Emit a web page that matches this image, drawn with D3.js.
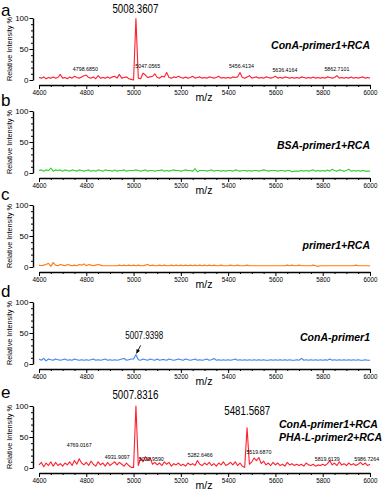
<!DOCTYPE html>
<html><head><meta charset="utf-8">
<script src="https://cdn.jsdelivr.net/npm/d3@7"></script>
<style>body{margin:0;background:#fff}svg{display:block}</style>
</head><body>
<svg id="c" width="392" height="497"></svg>
<script>
// m/z sampling grid (categories)
const mz = [4600,4610,4620,4630,4640,4650,4660,4670,4680,4690,
4700,4710,4720,4730,4740,4750,4760,4770,4780,4790,
4800,4810,4820,4830,4840,4850,4860,4870,4880,4890,
4900,4910,4920,4930,4940,4950,4960,4970,4980,4990,
5000,5010,5020,5030,5040,5050,5060,5070,5080,5090,
5100,5110,5120,5130,5140,5150,5160,5170,5180,5190,
5200,5210,5220,5230,5240,5250,5260,5270,5280,5290,
5300,5310,5320,5330,5340,5350,5360,5370,5380,5390,
5400,5410,5420,5430,5440,5450,5460,5470,5480,5490,
5500,5510,5520,5530,5540,5550,5560,5570,5580,5590,
5600,5610,5620,5630,5640,5650,5660,5670,5680,5690,
5700,5710,5720,5730,5740,5750,5760,5770,5780,5790,
5800,5810,5820,5830,5840,5850,5860,5870,5880,5890,
5900,5910,5920,5930,5940,5950,5960,5970,5980,5990,6000];

const valuesA = [4,3,5,2,4,3,5,3,4,9,
3,4,2,5,3,6,4,3,5,7,
8,4,3,5,2,7,3,4,3,5,
3,5,6,3,9,3,4,5,2,1,
0,99,3,2,11,8,4,5,6,10,
4,3,6,5,12,4,3,5,4,6,
4,3,5,3,4,6,3,4,5,3,
4,3,5,4,3,4,6,3,4,3,
4,3,5,4,5,12,4,3,5,7,
3,4,5,3,4,3,5,4,3,4,
6,3,4,3,5,4,3,4,3,4,
3,5,4,3,4,3,5,3,4,3,
4,3,5,4,3,4,7,3,4,3,
4,3,5,3,4,3,4,5,3,4,3];

const valuesB = [4,5,3,5,4,8,3,5,4,5,
3,5,4,3,5,4,3,5,4,3,
4,5,3,4,3,5,4,3,5,4,
4,3,5,3,4,4,5,3,4,4,
4,5,4,3,4,5,3,4,4,3,
4,4,5,3,4,3,4,5,4,4,
3,4,5,4,4,3,7,2,4,4,
4,3,4,5,3,4,4,3,4,3,
4,4,3,5,4,3,4,4,3,4,
3,4,4,3,4,5,4,3,4,4,
4,3,4,4,3,4,4,2,3,3,
3,4,3,4,3,4,5,3,4,3,
4,3,5,3,6,4,3,5,4,3,
4,6,3,4,3,4,3,4,3,3,3];

const valuesC = [3,2,3,4,6,1,7,3,2,4,
3,2,4,3,2,3,2,4,3,5,
2,4,3,2,3,4,3,2,2,2,
2,2,2,2,3,2,3,2,3,2,
3,2,3,2,2,3,4,2,3,2,
2,3,2,3,2,2,3,2,3,2,
3,2,3,2,3,2,3,2,3,2,
3,2,3,2,3,2,2,3,2,2,
2,3,2,2,3,2,2,2,3,2,
2,2,2,2,2,2,2,2,2,2,
2,2,2,2,2,3,2,3,2,2,
3,2,2,2,2,2,3,2,1,2,
2,2,2,2,2,2,2,2,2,2,
2,2,2,2,3,2,2,2,2,2,2];

const valuesD = [8,6,9,5,8,7,6,8,7,6,
7,8,6,7,6,8,7,6,7,6,
7,6,7,8,6,7,6,7,8,6,
7,6,7,6,7,8,9,6,7,8,
8,15,7,6,8,7,6,8,7,6,
8,6,7,7,6,8,7,6,7,8,
7,6,8,7,6,7,8,6,7,6,
7,8,6,7,9,6,7,6,7,6,
7,6,7,8,6,7,6,7,6,7,
6,7,6,7,6,7,6,6,7,6,
7,6,7,6,7,6,7,6,6,7,
6,9,6,7,6,7,6,7,6,7,
6,7,6,8,6,7,6,7,6,7,
6,7,6,7,6,7,6,6,7,6,6];

const valuesE = [5,9,2,8,4,10,3,9,4,7,
3,8,5,10,4,12,6,15,8,5,
9,4,11,6,3,10,5,8,3,9,
4,7,10,5,9,6,3,8,4,1,
1,100,4,16,10,18,12,17,6,9,
5,8,4,10,6,9,3,7,5,8,
4,6,3,8,5,7,4,12,6,4,
8,5,9,4,7,3,8,5,10,4,
6,9,5,10,4,8,3,1,65,6,
10,16,12,17,7,11,5,8,4,9,
5,8,4,6,3,9,5,7,4,6,
4,6,3,8,5,4,6,3,5,4,
6,4,7,12,5,8,4,10,5,7,
4,8,5,7,4,6,9,5,8,4,6];

const panelLetters = ["a","b","c","d","e"];
const seriesColors = ["#ff1f2d","#2fd12f","#ff7a12","#3a86f0","#ff1f2d"];
const sampleNames = [["ConA-primer1+RCA"],["BSA-primer1+RCA"],["primer1+RCA"],["ConA-primer1"],["ConA-primer1+RCA","PHA-L-primer2+RCA"]];
const xTicks = [4600,4800,5000,5200,5400,5600,5800,6000];
const yTicks = [0,50,100];

// peak annotations: [panel, text, m/z anchor, label height in %]
const bigLabels = [
  [0,"5008.3607",5008,108],
  [3,"5007.9398",5045,40],
  [4,"5007.8316",5008,112],
  [4,"5481.5687",5481,86]
];
const smallLabels = [
  [0,"4798.6850",4796,14],
  [0,"5047.0565",5060,19],
  [0,"5456.4134",5456,19],
  [0,"5636.4164",5640,13],
  [0,"5862.7101",5860,14],
  [4,"4769.0167",4770,34],
  [4,"4931.9097",4931,14],
  [4,"5029.9590",5075,12],
  [4,"5282.6466",5282,17],
  [4,"5519.6870",5530,22],
  [4,"5819.6139",5819,12],
  [4,"5986.7264",5986,12]
];

const panelBase = [80,173,267,364,468];
const panelH = 62;
const svg = d3.select("#c");
const font = "'Liberation Sans', Arial, sans-serif";
const x = d3.scaleLinear().domain([4600,6000]).range([39,370]);
const allValues = [valuesA,valuesB,valuesC,valuesD,valuesE];

allValues.forEach((vals,p)=>{
  const y0 = panelBase[p];
  const y = d3.scaleLinear().domain([0,100]).range([y0, y0-panelH]);
  const g = svg.append("g");
  // x axis
  const xa = g.append("g").attr("transform",`translate(0,${y0+5})`)
    .call(d3.axisBottom(x).tickValues(xTicks).tickSize(4).tickSizeOuter(0).tickFormat(d3.format("d")));
  g.append("g").attr("transform",`translate(0,${y0+5})`)
    .call(d3.axisBottom(x).tickValues(d3.range(4650,6000,50).filter(v=>v%200)).tickSize(2).tickFormat(""))
    .select(".domain").remove();
  xa.selectAll("text").attr("font-family",font).attr("font-size",7.5).attr("fill","#000")
    .attr("dy","0.55em").attr("y",6).attr("textLength",14).attr("lengthAdjust","spacingAndGlyphs");
  // y axis
  const ya = g.append("g").attr("transform","translate(33,0)")
    .call(d3.axisLeft(y).tickValues(yTicks).tickSize(3.5).tickSizeOuter(0));
  g.append("g").attr("transform","translate(33,0)")
    .call(d3.axisLeft(y).tickValues([10,20,30,40,60,70,80,90]).tickSize(2).tickFormat(""))
    .select(".domain").remove();
  ya.selectAll("text").attr("font-family",font).attr("font-size",8).attr("fill","#000").attr("x",-4.5);
  g.selectAll(".domain").attr("stroke","#000").attr("stroke-width",1.4);
  g.selectAll(".tick line").attr("stroke","#000").attr("stroke-width",1);
  // y label
  g.append("text").attr("transform",`translate(12,${y0-31}) rotate(-90)`)
    .attr("text-anchor","middle").attr("font-family",font).attr("font-size",6.8)
    .attr("textLength",64).attr("lengthAdjust","spacingAndGlyphs")
    .text("Relative Intensity %");
  // x label
  g.append("text").attr("x",204).attr("y",y0+21).attr("text-anchor","middle")
    .attr("font-family",font).attr("font-size",10.5).text("m/z");
  // panel letter
  g.append("text").attr("x",1).attr("y",p===0 ? 15.5 : y0 - (p===4?70:67)).attr("font-family",font)
    .attr("font-size",17).text(panelLetters[p]);
  // line
  const line = d3.line().x((d,i)=>x(mz[i])).y(d=>y(d));
  g.append("path").datum(vals).attr("d",line).attr("fill","none")
    .attr("stroke",seriesColors[p]).attr("stroke-width",1.1).attr("stroke-linejoin","round");
  // sample names
  const names = sampleNames[p];
  names.forEach((n,k)=>{
    const t = g.append("text").attr("font-family",font).attr("font-size",10.5)
      .attr("font-weight","bold").attr("font-style","italic").text(n);
    if(p===4){ t.attr("x",279).attr("y",y0-40+k*13); }
    else { t.attr("x",370).attr("text-anchor","end").attr("y",y0 - (p===0?31:p===1?24:p===2?18:23)); }
  });
  // big labels
  bigLabels.filter(b=>b[0]===p).forEach(b=>{
    g.append("text").attr("x",x(b[2])).attr("y",y(b[3])).attr("text-anchor","middle")
      .attr("font-family",font).attr("font-size",p===3?11:13.5)
      .attr("textLength",p===3?38:46).attr("lengthAdjust","spacingAndGlyphs").text(b[1]);
  });
  smallLabels.filter(b=>b[0]===p).forEach(b=>{
    g.append("text").attr("x",x(b[2])).attr("y",y(b[3])).attr("text-anchor","middle")
      .attr("font-family",font).attr("font-size",6)
      .attr("textLength",25).attr("lengthAdjust","spacingAndGlyphs").text(b[1]);
  });
  if(p===3){
    // arrow to peak
    const xs = x(5030), ys = y(30), xe = x(5012), ye = y(17);
    g.append("line").attr("x1",xs).attr("y1",ys).attr("x2",xe).attr("y2",ye).attr("stroke","#000").attr("stroke-width",0.9);
    const ang = Math.atan2(ye-ys, xe-xs);
    const L=4, W=2;
    const p1=[xe - L*Math.cos(ang) + W*Math.sin(ang), ye - L*Math.sin(ang) - W*Math.cos(ang)];
    const p2=[xe - L*Math.cos(ang) - W*Math.sin(ang), ye - L*Math.sin(ang) + W*Math.cos(ang)];
    g.append("path").attr("d",`M${xe},${ye}L${p1}L${p2}Z`).attr("fill","#000");
  }
});
</script>
</body></html>
